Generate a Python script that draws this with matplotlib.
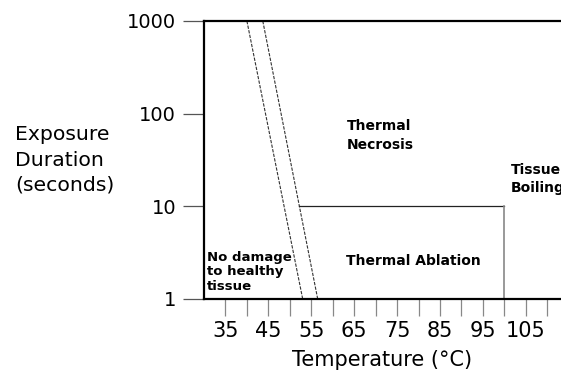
import matplotlib
matplotlib.use("Agg")
import matplotlib.pyplot as plt

# Data
x_ticks = [35, 40, 45, 50, 55, 60, 65, 70, 75, 80, 85, 90, 95, 100, 105, 110]
x_labels = ["35", "", "45", "", "55", "", "65", "", "75", "", "85", "", "95", "", "105", ""]
y_ticks = [1, 10, 100, 1000]
y_labels = ["1", "10", "100", "1000"]

# damage threshold lines (temperature at 1000 s, temperature at 1 s)
line1_x = [40.0, 53.0]
line2_x = [43.7, 56.5]
line_y = [1000, 1]

ablation_top = 10       # seconds
boiling_temp = 100      # °C
ablation_start = 52.23  # where line2 crosses 10 s

fig = plt.figure(figsize=(5.61, 3.71), dpi=100)
ax = fig.add_axes([204/561, 1-299/371, 1-204/561, (299-21)/371])
ax.set_yscale("log")
ax.set_xlim(30, 113.2)
ax.set_ylim(1, 1000)

ax.plot(line1_x, line_y, linestyle=(0, (3, 1.2)), color="#333333", lw=0.8)
ax.plot(line2_x, line_y, linestyle=(0, (3, 1.2)), color="#333333", lw=0.8)
ax.plot([ablation_start, boiling_temp], [ablation_top, ablation_top], color="#222222", lw=0.9)
ax.plot([boiling_temp, boiling_temp], [1, ablation_top], color="#888888", lw=1.2)

for s in ["left", "top", "bottom"]:
    ax.spines[s].set_linewidth(1.6)
    ax.spines[s].set_color("black")
ax.spines["right"].set_visible(False)

ax.set_xticks(x_ticks)
ax.set_xticklabels(x_labels, fontsize=15)
ax.set_yticks(y_ticks)
ax.set_yticklabels(y_labels, fontsize=14)
ax.minorticks_off()
ax.tick_params(axis="x", length=12, width=0.9, color="#888888", pad=4)
ax.tick_params(axis="y", length=15, width=0.9, color="#555555", pad=5)

ax.set_xlabel("Temperature (°C)", fontsize=15, labelpad=6)

fig.text(15/561, 1-160/371, "Exposure\nDuration\n(seconds)", fontsize=14.7,
         ha="left", va="center", linespacing=1.42)

bold = dict(fontsize=10, fontweight="bold", ha="left", va="center")
ax.text(63.3, 58, "Thermal\nNecrosis", linespacing=1.45, **bold)
ax.text(63.1, 2.59, "Thermal Ablation", **bold)
ax.text(101.6, 19.7, "Tissue\nBoiling", linespacing=1.35, clip_on=False, **bold)
ax.text(30.7, 1.96, "No damage\nto healthy\ntissue", linespacing=1.15,
        fontsize=9.5, fontweight="bold", ha="left", va="center")

fig.savefig("out.png", dpi=100)
